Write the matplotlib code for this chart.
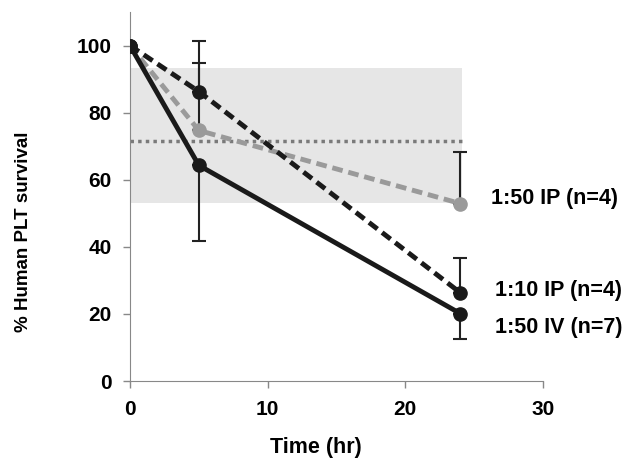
import matplotlib.pyplot as plt
import numpy as np
from matplotlib import font_manager

plt.rcParams['font.family'] = ['Liberation Sans', 'DejaVu Sans']

time_hr = [0, 5, 24]
iv_50 = [100, 64.3, 20.1]
ip_10 = [100, 86.3, 26.3]
ip_50 = [100, 74.7, 52.9]

# one-sided error bars (lower, upper)
iv_50_err = [[0, 22.5, 7.7], [0, 0, 0]]
ip_10_err = [[0, 0, 0], [0, 15.0, 10.4]]
ip_50_err = [[0, 0, 0], [0, 20.1, 15.3]]

band_low, band_high = 53.2, 93.3
band_mean = 71.5
band_end = 24.1

series_labels = ['1:50 IP (n=4)', '1:10 IP (n=4)', '1:50 IV (n=7)']

fig = plt.figure(figsize=(6.34, 4.71), dpi=100)
ax = fig.add_axes([0.205, 0.191, 0.6515, 0.7835])

# normal range band
ax.fill_between([0, band_end], band_low, band_high, color='#e6e6e6', zorder=0, linewidth=0)
ax.plot([0, band_end], [band_mean, band_mean], color='#7a7a7a', linestyle=(0, (1, 1.2)), lw=2.5, zorder=1)

ax.errorbar(time_hr, iv_50, yerr=iv_50_err, fmt='none', ecolor='#222222', elinewidth=1.5, capsize=5, capthick=1.5, zorder=2)
ax.errorbar(time_hr, ip_10, yerr=ip_10_err, fmt='none', ecolor='#222222', elinewidth=1.5, capsize=5, capthick=1.5, zorder=2)
ax.errorbar(time_hr, ip_50, yerr=ip_50_err, fmt='none', ecolor='#222222', elinewidth=1.5, capsize=5, capthick=1.5, zorder=2)

ax.plot(time_hr, ip_50, color='#9a9a9a', lw=3.5, linestyle=(0, (2.2, 1.2)), marker='o', markersize=9.5, zorder=3)
ax.plot(time_hr, ip_10, color='#1a1a1a', lw=3.5, linestyle=(0, (2.2, 1.2)), marker='o', markersize=9.5, zorder=4)
ax.plot(time_hr, iv_50, color='#1a1a1a', lw=3.5, linestyle='-', marker='o', markersize=9.5, zorder=5)

# series labels at right end
label_x = [26.2, 26.5, 26.5]
label_y = [54.5, 27.1, 16.1]
for txt, xv, yv in zip(series_labels, label_x, label_y):
    ax.text(xv, yv, txt, fontsize=15.5, fontweight='bold', va='center', ha='left', clip_on=False)

ax.set_xlim(0, 30)
ax.set_ylim(0, 110)
ax.set_xticks([0, 10, 20, 30])
ax.set_yticks([0, 20, 40, 60, 80, 100])
ax.tick_params(labelsize=15, color='#888888', length=5, width=1)
ax.tick_params(axis='y', pad=8)
ax.tick_params(axis='x', pad=9)
for lab in ax.get_xticklabels() + ax.get_yticklabels():
    lab.set_fontweight('bold')

ax.spines['top'].set_visible(False)
ax.spines['right'].set_visible(False)
ax.spines['left'].set_color('#888888')
ax.spines['bottom'].set_color('#888888')

# y label in a narrow face if one is installed
names = {f.name for f in font_manager.fontManager.ttflist}
ylab_family = ['Liberation Sans Narrow', 'Liberation Sans'] if 'Liberation Sans Narrow' in names else ['Liberation Sans']
ylab_size = 16 if 'Liberation Sans Narrow' in names else 13.5

ax.set_xlabel('Time (hr)', fontsize=15.5, fontweight='bold')
ax.set_ylabel('% Human PLT survival', fontsize=ylab_size, fontweight='bold', family=ylab_family)
ax.xaxis.set_label_coords(0.45, -0.152)
ax.yaxis.set_label_coords(-0.237, 0.404)

fig.savefig('out.png', dpi=100)
